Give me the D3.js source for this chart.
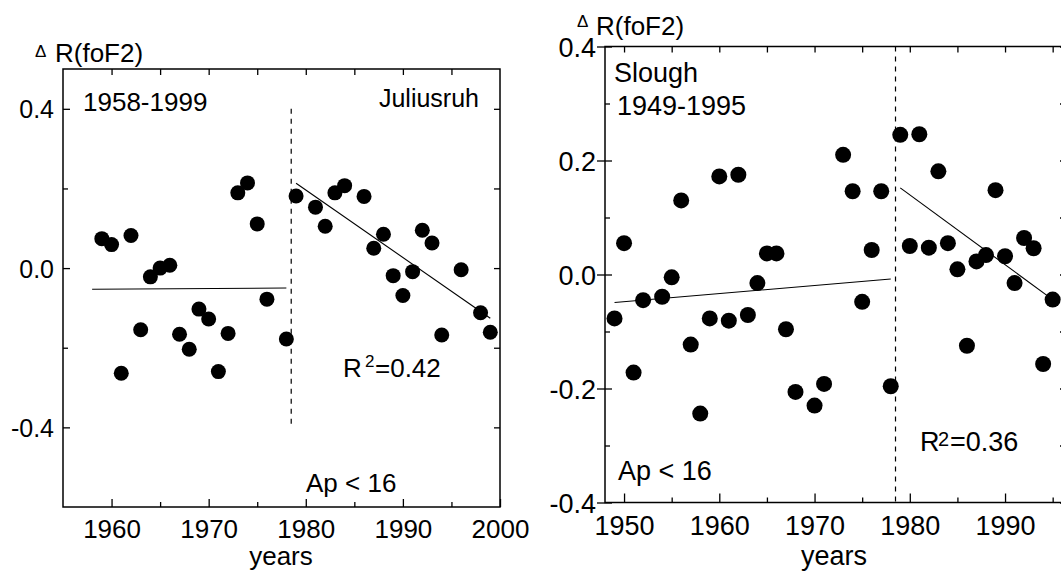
<!DOCTYPE html>
<html>
<head>
<meta charset="utf-8">
<script src="https://cdn.jsdelivr.net/npm/d3@7"></script>
<style>
  body { margin: 0; background: #fff; }
  svg text { font-family: "Liberation Sans", Arial, sans-serif; fill: #000; }
</style>
</head>
<body>
<svg id="fig" width="1061" height="573"></svg>
<script>
// datos Juliusruh (Ap < 16)
const julYears = [1959,1960,1961,1962,1963,1964,1965,1966,1967,1968,1969,1970,1971,1972,1973,1974,1975,1976,1978,
                  1979,1981,1982,1983,1984,1986,1987,1988,1989,1990,1991,1992,1993,1994,1996,1998,1999];
const julValues = [0.074,0.059,-0.264,0.082,-0.155,-0.022,0.000,0.007,-0.166,-0.204,-0.103,-0.128,-0.260,-0.164,0.189,0.214,0.111,-0.078,-0.178,
                   0.181,0.153,0.105,0.189,0.207,0.180,0.050,0.085,-0.019,-0.069,-0.009,0.095,0.063,-0.168,-0.004,-0.112,-0.161];
const julFit1Years = [1958, 1978];
const julFit1Values = [-0.053, -0.050];
const julFit2Years = [1979, 1999];
const julFit2Values = [0.213, -0.126];

// datos Slough (Ap < 16)
const sloYears = [1949,1950,1951,1952,1954,1955,1956,1957,1958,1959,1960,1961,1962,1963,1964,1965,1966,1967,1968,1970,1971,
                  1973,1974,1975,1976,1977,1978,1979,1980,1981,1982,1983,1984,1985,1986,1987,1988,1989,1990,1991,1992,1993,1994,1995];
const sloValues = [-0.077,0.055,-0.172,-0.045,-0.039,-0.005,0.130,-0.123,-0.244,-0.077,0.172,-0.081,0.175,-0.071,-0.015,0.037,0.037,-0.096,-0.206,-0.230,-0.192,
                   0.210,0.146,-0.048,0.043,0.146,-0.196,0.245,0.050,0.246,0.047,0.181,0.055,0.009,-0.125,0.023,0.034,0.148,0.032,-0.015,0.064,0.046,-0.157,-0.044];
const sloFit1Years = [1949, 1978];
const sloFit1Values = [-0.049, -0.008];
const sloFit2Years = [1979, 1995];
const sloFit2Values = [0.152, -0.044];

const breakYear = 1978.5;

const svg = d3.select("#fig");
svg.append("rect").attr("width", 1061).attr("height", 573).attr("fill", "#fff");

const fmt = d => d.toFixed(1);

// eje con marcas hacia dentro (tamaño negativo) y sin línea de dominio
const addAxis = (g, axis, transform, fontSize) => {
    const a = g.append("g").attr("transform", transform).call(axis);
    a.select(".domain").remove();
    a.attr("font-family", null).attr("font-size", fontSize);
    a.selectAll("line").attr("stroke", "#000").attr("stroke-width", 1.3);
    return a;
};

const drawPanel = (p) => {
    const x = d3.scaleLinear().domain(p.xDomain).range([p.x0, p.x1]);
    const y = d3.scaleLinear().domain(p.yDomain).range([p.y1, p.y0]);
    const g = svg.append("g");

    // marcas de los ejes
    addAxis(g, d3.axisBottom(x).tickValues(p.xMajor).tickSizeInner(-p.bMajor).tickSizeOuter(0)
        .tickPadding(p.xPad).tickFormat(d3.format("d")), `translate(0,${p.y1})`, p.fs);
    addAxis(g, d3.axisBottom(x).tickValues(p.xMinor).tickSizeInner(-5).tickSizeOuter(0).tickFormat(""),
        `translate(0,${p.y1})`, p.fs);
    addAxis(g, d3.axisTop(x).tickValues(p.xTop).tickSizeInner(-6).tickSizeOuter(0).tickFormat(""),
        `translate(0,${p.y0})`, p.fs);
    addAxis(g, d3.axisLeft(y).tickValues(p.yMajor).tickSizeInner(-7).tickSizeOuter(0)
        .tickPadding(p.yPad).tickFormat(fmt), `translate(${p.x0},0)`, p.fs)
        .selectAll("text").attr("dy", "0.36em");
    if (p.crossTicks) {
        addAxis(g, d3.axisLeft(y).tickValues(p.yMajor).tickSizeInner(8).tickSizeOuter(0).tickFormat(""),
            `translate(${p.x0},0)`, p.fs);
    }
    addAxis(g, d3.axisLeft(y).tickValues(p.yMinor).tickSizeInner(-5).tickSizeOuter(0).tickFormat(""),
        `translate(${p.x0},0)`, p.fs);
    addAxis(g, d3.axisRight(y).tickValues(p.yRight).tickSizeInner(-6).tickSizeOuter(0).tickFormat(""),
        `translate(${p.x1},0)`, p.fs);

    // marco
    g.append("rect").attr("x", p.x0).attr("y", p.y0)
        .attr("width", p.x1 - p.x0).attr("height", p.y1 - p.y0)
        .attr("fill", "none").attr("stroke", "#000").attr("stroke-width", 1.5);

    // línea discontinua del cambio
    g.append("line")
        .attr("x1", x(breakYear)).attr("x2", x(breakYear))
        .attr("y1", y(p.dashTop)).attr("y2", y(p.dashBottom))
        .attr("stroke", "#000").attr("stroke-width", 1.2).attr("stroke-dasharray", "5,5");

    // rectas de regresión
    const line = d3.line().x(d => x(d[0])).y(d => y(d[1]));
    p.fits.forEach(f => {
        g.append("path").attr("d", line(d3.zip(f[0], f[1])))
            .attr("fill", "none").attr("stroke", "#000").attr("stroke-width", 1.1);
    });

    // puntos
    g.selectAll("circle.pt").data(d3.zip(p.years, p.values)).enter()
        .append("circle").attr("class", "pt")
        .attr("cx", d => x(d[0])).attr("cy", d => y(d[1]))
        .attr("r", p.r).attr("fill", "#000");

    return g;
};

// panel izquierdo: Juliusruh
const gL = drawPanel({
    x0: 63, x1: 500, y0: 69, y1: 507,
    xDomain: [1955, 2000], yDomain: [-0.6, 0.5],
    xMajor: [1960, 1970, 1980, 1990, 2000], xMinor: [1965, 1975, 1985, 1995],
    xTop: [1960, 1965, 1970, 1975, 1980, 1985, 1990, 1995],
    yMajor: [-0.4, 0, 0.4], yMinor: [-0.2, 0.2], yRight: [-0.4, -0.2, 0, 0.2, 0.4],
    bMajor: 8, xPad: 13, yPad: 9, fs: 26, crossTicks: false,
    dashTop: 0.4, dashBottom: -0.4, r: 7.5,
    years: julYears, values: julValues,
    fits: [[julFit1Years, julFit1Values], [julFit2Years, julFit2Values]]
});
gL.selectAll("g.tick text").filter(function () { return this.parentNode.parentNode.getAttribute("transform").startsWith("translate(63"); })
    .attr("font-size", 25);

// panel derecho: Slough
const gR = drawPanel({
    x0: 605, x1: 1066, y0: 46.5, y1: 502.5,
    xDomain: [1948, 1996.4], yDomain: [-0.4, 0.4],
    xMajor: [1950, 1960, 1970, 1980, 1990], xMinor: [1955, 1965, 1975, 1985, 1995],
    xTop: [1950, 1955, 1960, 1965, 1970, 1975, 1980, 1985, 1990, 1995],
    yMajor: [-0.4, -0.2, 0, 0.2, 0.4], yMinor: [-0.3, -0.1, 0.1, 0.3],
    yRight: [-0.4, -0.3, -0.2, -0.1, 0, 0.1, 0.2, 0.3, 0.4],
    bMajor: 9, xPad: 13, yPad: 9, fs: 27, crossTicks: true,
    dashTop: 0.4, dashBottom: -0.4, r: 8,
    years: sloYears, values: sloValues,
    fits: [[sloFit1Years, sloFit1Values], [sloFit2Years, sloFit2Values]]
});

// textos
const txt = (x, y, s, size, anchor) => svg.append("text").attr("x", x).attr("y", y)
    .attr("font-size", size).attr("text-anchor", anchor || "start").text(s);

// izquierda
txt(35, 57, "Δ", 17);
txt(55, 62, "R(foF2)", 26);
txt(83, 111, "1958-1999", 26);
txt(479, 107, "Juliusruh", 25, "end");
const r2L = svg.append("text").attr("y", 377).attr("font-size", 26);
r2L.append("tspan").attr("x", 343).text("R");
r2L.append("tspan").attr("x", 365).attr("y", 367).attr("font-size", 17).text("2");
r2L.append("tspan").attr("x", 375).attr("y", 377).text("=0.42");
txt(306, 492, "Ap < 16", 26);
txt(281, 565, "years", 26, "middle");

// derecha
txt(577, 27, "Δ", 17);
txt(596, 35, "R(foF2)", 26);
txt(614, 82, "Slough", 27);
txt(617, 115, "1949-1995", 27);
const r2R = svg.append("text").attr("y", 451).attr("font-size", 27);
r2R.append("tspan").attr("x", 920).text("R");
r2R.append("tspan").attr("x", 938).attr("y", 446).attr("font-size", 20).text("2");
r2R.append("tspan").attr("x", 950).attr("y", 451).text("=0.36");
txt(618, 480, "Ap < 16", 27);
txt(834, 565, "years", 27, "middle");
</script>
</body>
</html>
